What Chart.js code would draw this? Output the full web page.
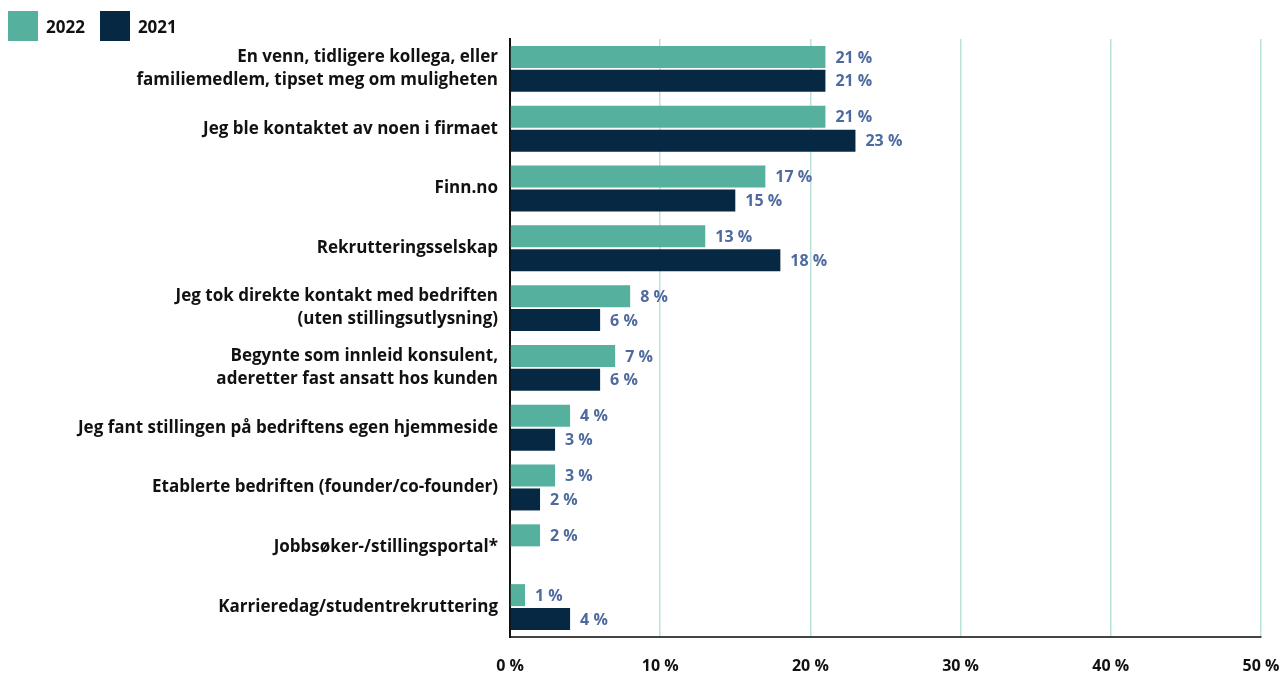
<!DOCTYPE html>
<html>
<head>
<meta charset="utf-8">
<script src="https://cdn.jsdelivr.net/npm/chart.js@4"></script>
<style>
  html, body { margin: 0; padding: 0; background: #fff; }
  #wrap { width: 1284px; height: 677px; position: relative; }
  #legende { position: absolute; left: 8px; top: 11px; display: flex; align-items: center;
             font: bold 17px "Open Sans", sans-serif; color: #111; }
  #legende span.boks { display: inline-block; width: 30px; height: 30px; margin-right: 8px; }
  #legende span.tekst { margin-right: 15px; }
</style>
</head>
<body>
<div id="wrap">
  <canvas id="chart"></canvas>
  <div id="legende"></div>
</div>
<script>
// Data
const kategorier = [
    ["En venn, tidligere kollega, eller", "familiemedlem, tipset meg om muligheten"],
    "Jeg ble kontaktet av noen i firmaet",
    "Finn.no",
    "Rekrutteringsselskap",
    ["Jeg tok direkte kontakt med bedriften", "(uten stillingsutlysning)"],
    ["Begynte som innleid konsulent,", "aderetter fast ansatt hos kunden"],
    "Jeg fant stillingen på bedriftens egen hjemmeside",
    "Etablerte bedriften (founder/co-founder)",
    "Jobbsøker-/stillingsportal*",
    "Karrieredag/studentrekruttering"
];
const verdier2022 = [21, 21, 17, 13, 8, 7, 4, 3, 2, 1];
const verdier2021 = [21, 23, 15, 18, 6, 6, 3, 2, null, 4];
const serieNavn = ["2022", "2021"];
const serieFarger = ["#55b09e", "#062843"];
const xTicks = [0, 10, 20, 30, 40, 50];

const FONT = "'Open Sans', sans-serif";

// Legende over diagrammet
const legende = document.getElementById("legende");
serieNavn.forEach((navn, i) => {
    legende.innerHTML += `<span class="boks" style="background:${serieFarger[i]}"></span><span class="tekst">${navn}</span>`;
});

// Etiketter til høyre for stolpene
const verdiEtiketter = {
    id: "verdiEtiketter",
    afterDatasetsDraw(chart) {
        const ctx = chart.ctx;
        ctx.save();
        ctx.font = "bold 16px " + FONT;
        ctx.fillStyle = "#4e6a9e";
        ctx.textAlign = "left";
        ctx.textBaseline = "middle";
        chart.data.datasets.forEach((ds, i) => {
            chart.getDatasetMeta(i).data.forEach((bar, j) => {
                if (ds.data[j] == null) return;
                ctx.fillText(ds.data[j] + " %", bar.x + 10, bar.y + 1);
            });
        });
        ctx.restore();
    }
};

new Chart(document.getElementById("chart"), {
    type: "bar",
    data: {
        labels: kategorier,
        datasets: [
            {
                label: serieNavn[0],
                data: verdier2022,
                backgroundColor: serieFarger[0],
                categoryPercentage: 0.8,
                barPercentage: 0.92
            },
            {
                label: serieNavn[1],
                data: verdier2021,
                backgroundColor: serieFarger[1],
                categoryPercentage: 0.8,
                barPercentage: 0.92
            }
        ]
    },
    options: {
        indexAxis: "y",
        responsive: true,
        maintainAspectRatio: false,
        animation: false,
        layout: { padding: { left: 0, right: 23, top: 39, bottom: 0 } },
        plugins: {
            legend: { display: false },
            tooltip: { enabled: false }
        },
        scales: {
            x: {
                min: 0,
                max: 50,
                afterBuildTicks: s => { s.ticks = xTicks.map(v => ({ value: v })); },
                afterFit: s => { s.height = 40; s.paddingRight = 0; },
                grid: {
                    color: c => c.tick && c.tick.value === 0 ? "rgba(0,0,0,0)" : "#b9e2da",
                    lineWidth: 1.5,
                    drawTicks: false
                },
                border: { color: "#444", width: 2 },
                ticks: {
                    padding: 20,
                    color: "#111",
                    font: { family: FONT, size: 16, weight: "bold" },
                    callback: v => v + " %"
                }
            },
            y: {
                afterFit: s => { s.width = 510; },
                grid: { display: false, drawTicks: false },
                border: { color: "#111", width: 2 },
                ticks: {
                    padding: 12,
                    color: "#111",
                    font: { family: FONT, size: 17, weight: "bold", lineHeight: 1.35 }
                }
            }
        }
    },
    plugins: [verdiEtiketter]
});
</script>
</body>
</html>
